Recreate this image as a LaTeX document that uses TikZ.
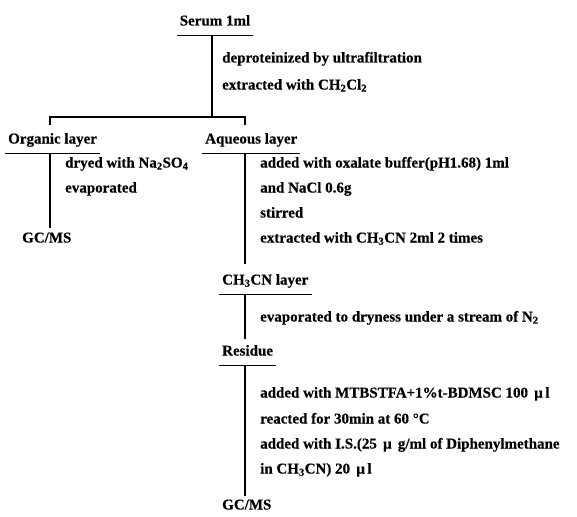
\documentclass[tikz,border=0pt]{standalone}
\usepackage{fontspec}
\setmainfont{Liberation Serif}[BoldFeatures={FakeBold=0.4}]
\usetikzlibrary{positioning}
\tikzset{rule/.style={line width=1.4pt}}
\tikzset{layer/.style={font=\bfseries\fontsize{15}{17}\selectfont,inner xsep=3pt,inner ysep=7pt,text height=10pt,text depth=3pt}}
\tikzset{stepnote/.style={font=\bfseries\fontsize{15}{17}\selectfont,anchor=west,inner sep=0pt,text height=10pt,text depth=3pt}}
\tikzset{result/.style={font=\bfseries\fontsize{15}{17}\selectfont,anchor=west,inner sep=0pt,text height=10pt,text depth=3pt}}

\begin{document}
\begin{tikzpicture}[x=1pt,y=-1pt]
    \useasboundingbox (0,-2) rectangle (577,514);

    % serum and first split
    \node[layer] (serum) at (215,20) {Serum 1ml};
    \node[stepnote] (deprot) at (222,57) {deproteinized by ultrafiltration};
    \node[stepnote] (extract) at (222,84) {extracted with CH\textsubscript{2}Cl\textsubscript{2}};
    \coordinate (split) at (212,115);
    \coordinate (orgtop) at (50,115);
    \coordinate (aqtop) at (245,115);

    \node[layer,anchor=west] (organic) at (5,138) {Organic layer};
    \node[layer,anchor=west] (aqueous) at (202,138) {Aqueous layer};

    \draw[rule] (split |- serum.south) -- (split);
    \draw[rule] ([yshift=-8pt]orgtop) -- (orgtop) -- (aqtop) -- ([yshift=-8pt]aqtop);
    \draw[rule] (serum.south west) -- (serum.south east);
    \draw[rule] (organic.south west) -- (organic.south east);
    \draw[rule] (aqueous.south west) -- (aqueous.south east);

    % organic layer
    \node[stepnote] (dry) at (65,162) {dryed with Na\textsubscript{2}SO\textsubscript{4}};
    \node[stepnote] (evap) at (65,187) {evaporated};
    \node[result] (gcmsA) at (22,237) {GC/MS};
    \coordinate (orgend) at (50,226);
    \draw[rule] (orgend |- organic.south) -- (orgend);

    % aqueous layer
    \node[stepnote] (oxal) at (260,162) {added with oxalate buffer(pH1.68) 1ml};
    \node[stepnote] (nacl) at (260,187) {and NaCl 0.6g};
    \node[stepnote] (stir) at (260,212) {stirred};
    \node[stepnote] (acn) at (260,237) {extracted with CH\textsubscript{3}CN 2ml 2 times};
    \node[layer,anchor=west] (acnlayer) at (219,279) {CH\textsubscript{3}CN layer};
    \coordinate (aqend) at (245,262);
    \draw[rule] (aqend |- aqueous.south) -- (aqend);
    \draw[rule] (acnlayer.south west) -- (acnlayer.south east);

    % CH3CN layer
    \node[stepnote] (dryness) at (260,316) {evaporated to dryness under a stream of N\textsubscript{2}};
    \node[layer,anchor=west] (residue) at (219,350) {Residue};
    \coordinate (acnend) at (245,337);
    \draw[rule] (acnend |- acnlayer.south) -- (acnend);
    \draw[rule] (residue.south west) -- (residue.south east);

    % residue
    \node[stepnote] (deriv) at (260,392) {added with MTBSTFA+1\%t-BDMSC 100 \,μ\,l};
    \node[stepnote] (react) at (260,418) {reacted for 30min at 60 \textdegree{}C};
    \node[stepnote] (istd) at (260,443) {added with I.S.(25 \,μ\, g/ml of Diphenylmethane};
    \node[stepnote] (istdb) at (260,468) {in CH\textsubscript{3}CN) 20 \,μ\,l};
    \node[result] (gcmsB) at (222,504) {GC/MS};
    \coordinate (resend) at (245,494);
    \draw[rule] (resend |- residue.south) -- (resend);
\end{tikzpicture}
\end{document}
